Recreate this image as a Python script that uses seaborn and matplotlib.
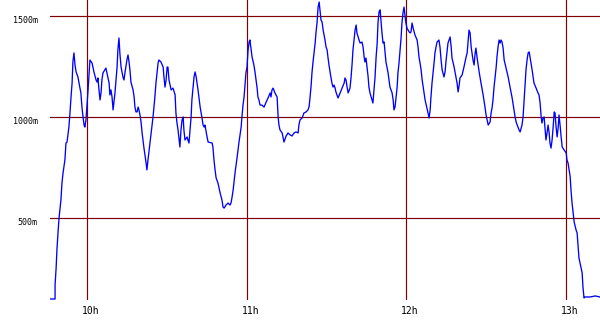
import matplotlib
matplotlib.use("Agg")
import matplotlib.pyplot as plt
from matplotlib.transforms import ScaledTranslation
import seaborn as sns
import pandas as pd

# time in minutes after 09:00, altitude in metres
time_min = [46.1, 48.0, 48.0, 48.4, 48.7, 49.1, 49.5, 50.2, 50.6, 51.0, 51.7, 52.1, 52.5, 53.2, 53.6, 54.0, 54.4, 54.7, 55.1, 55.5,
            55.9, 56.6, 57.0, 57.7, 58.1, 58.5, 58.9, 59.2, 59.6, 60.0, 60.4, 60.8, 61.1, 61.9, 62.6, 63.4, 63.8, 64.1, 64.5, 64.9,
            65.3, 65.6, 66.0, 67.1, 67.5, 68.3, 68.6, 69.0, 69.4, 69.8, 70.1, 70.5, 70.9, 71.3, 71.6, 72.0, 72.4, 72.8, 73.5, 73.9,
            74.3, 75.0, 75.4, 75.8, 76.2, 76.5, 77.3, 77.7, 78.0, 78.4, 78.8, 79.2, 79.5, 79.9, 80.3, 80.7, 81.4, 82.2, 82.5, 82.9,
            83.7, 84.4, 84.8, 85.5, 85.9, 86.3, 86.7, 87.0, 87.8, 88.6, 88.9, 89.3, 89.7, 90.1, 90.4, 90.8, 91.6, 92.3, 93.1, 93.4,
            93.8, 94.2, 94.6, 94.9, 95.3, 95.7, 96.1, 96.4, 96.8, 97.6, 97.9, 98.3, 98.7, 99.1, 99.4, 99.8, 100.2, 100.6, 101.0, 101.7,
            102.5, 103.2, 103.6, 104.0, 104.3, 105.1, 105.5, 107.0, 107.3, 107.7, 108.1, 108.5, 109.2, 110.0, 110.7, 111.1, 111.5, 112.2, 113.0, 113.7,
            114.1, 114.5, 114.9, 115.6, 116.4, 117.1, 117.9, 118.2, 118.6, 119.0, 119.4, 119.7, 120.1, 120.5, 120.9, 121.2, 121.6, 122.0, 122.7, 123.1,
            123.5, 123.9, 124.2, 124.6, 125.0, 125.7, 126.5, 127.3, 128.0, 128.8, 129.1, 129.5, 129.9, 130.6, 131.4, 131.8, 132.1, 132.5, 133.3, 133.6,
            134.0, 134.8, 135.5, 136.3, 137.0, 137.8, 138.5, 139.3, 139.6, 140.0, 140.8, 141.5, 142.3, 143.0, 143.4, 143.8, 144.2, 144.5, 144.9, 145.3,
            145.7, 146.0, 146.4, 146.8, 147.2, 147.5, 147.9, 148.3, 148.7, 149.4, 149.8, 150.2, 150.5, 150.9, 151.3, 151.7, 152.0, 152.4, 152.8, 153.2,
            153.5, 153.9, 154.3, 155.1, 155.8, 156.6, 156.9, 157.3, 157.7, 158.1, 158.8, 159.2, 159.6, 159.9, 160.3, 160.7, 161.1, 161.4, 162.2, 162.6,
            163.3, 163.7, 164.1, 164.4, 164.8, 165.2, 165.6, 165.9, 166.3, 167.1, 167.4, 167.8, 168.2, 168.6, 169.0, 169.3, 169.7, 170.1, 170.5, 170.8,
            171.2, 171.6, 172.3, 173.1, 173.8, 174.6, 175.0, 175.3, 175.7, 176.1, 176.5, 176.8, 177.2, 177.6, 178.0, 178.3, 178.7, 179.1, 179.5, 179.8,
            180.2, 181.0, 181.4, 181.7, 182.1, 182.5, 183.2, 184.0, 184.4, 184.7, 185.1, 185.5, 185.9, 186.6, 187.0, 187.7, 188.1, 188.5, 188.9, 189.2,
            189.6, 190.0, 190.4, 190.7, 191.1, 191.5, 192.2, 192.6, 193.0, 193.4, 194.1, 194.5, 194.9, 195.3, 195.6, 196.4, 196.8, 197.1, 197.9, 198.6,
            199.0, 199.4, 199.8, 200.1, 200.9, 201.6, 202.4, 202.8, 203.1, 203.5, 203.9, 204.3, 205.0, 205.4, 205.8, 206.1, 206.5, 207.3, 208.0, 208.8,
            209.5, 209.9, 210.3, 210.7, 211.4, 211.8, 212.2, 212.5, 212.9, 213.3, 213.7, 214.0, 214.4, 214.8, 215.2, 215.5, 215.9, 216.3, 216.7, 217.4,
            218.2, 218.9, 219.7, 220.4, 220.8, 221.2, 221.6, 222.3, 222.7, 223.1, 223.4, 223.8, 224.2, 224.6, 224.9, 225.3, 225.7, 226.1, 226.4, 227.2,
            227.9, 228.7, 229.4, 229.8, 230.2, 230.6, 230.9, 231.3, 231.7, 232.1, 232.4, 232.8, 233.2, 233.6, 233.9, 234.3, 234.7, 235.1, 235.5, 235.8,
            236.2, 236.6, 237.0, 237.3, 237.7, 238.1, 238.5, 239.2, 240.0, 240.3, 240.7, 241.1, 241.5, 241.8, 242.2, 242.6, 243.0, 243.7, 244.1, 244.5,
            244.8, 245.2, 246.0, 246.3, 246.7, 247.1, 249.0, 250.9, 252.7]

altitude_m = [99, 99, 168, 252, 342, 426, 500, 589, 673, 723, 787, 871, 876, 950, 1020, 1099, 1168, 1272, 1317, 1257,
              1223, 1198, 1168, 1119, 1049, 1000, 960, 950, 985, 1059, 1134, 1218, 1282, 1267, 1223, 1183, 1173, 1193, 1134, 1084,
              1124, 1183, 1218, 1242, 1218, 1168, 1109, 1134, 1099, 1035, 1069, 1119, 1183, 1247, 1331, 1391, 1307, 1247, 1198, 1183,
              1223, 1282, 1307, 1272, 1223, 1173, 1134, 1099, 1049, 1025, 1025, 1049, 1035, 1010, 975, 921, 846, 772, 738, 787,
              876, 950, 1000, 1099, 1168, 1218, 1267, 1282, 1272, 1247, 1198, 1148, 1183, 1247, 1247, 1183, 1134, 1143, 1109, 1020,
              970, 936, 886, 851, 936, 985, 1000, 936, 886, 901, 886, 871, 936, 1000, 1084, 1143, 1198, 1223, 1198, 1134,
              1049, 995, 960, 950, 960, 901, 876, 871, 851, 787, 738, 698, 673, 624, 589, 554, 549, 564, 574, 564,
              574, 604, 639, 723, 802, 876, 950, 1000, 1059, 1099, 1168, 1218, 1247, 1331, 1371, 1381, 1341, 1297, 1257, 1223,
              1183, 1143, 1099, 1084, 1059, 1059, 1049, 1074, 1094, 1119, 1099, 1134, 1143, 1119, 1099, 1000, 960, 936, 921, 901,
              876, 906, 921, 911, 906, 921, 926, 921, 960, 985, 995, 1020, 1025, 1035, 1049, 1099, 1158, 1218, 1272, 1317,
              1366, 1416, 1465, 1544, 1569, 1530, 1480, 1470, 1430, 1381, 1346, 1331, 1297, 1257, 1223, 1193, 1168, 1148, 1158, 1143,
              1124, 1109, 1094, 1119, 1143, 1168, 1193, 1183, 1148, 1119, 1143, 1198, 1267, 1331, 1381, 1430, 1455, 1416, 1381, 1366,
              1371, 1346, 1297, 1272, 1292, 1247, 1198, 1148, 1119, 1084, 1069, 1134, 1198, 1297, 1366, 1465, 1520, 1530, 1465, 1416,
              1366, 1371, 1272, 1218, 1148, 1119, 1084, 1035, 1049, 1099, 1148, 1218, 1267, 1331, 1396, 1465, 1515, 1544, 1495, 1465,
              1440, 1421, 1416, 1421, 1465, 1440, 1406, 1381, 1341, 1297, 1267, 1233, 1183, 1119, 1084, 1044, 1020, 995, 1035, 1099,
              1168, 1218, 1272, 1317, 1346, 1371, 1381, 1346, 1282, 1233, 1198, 1223, 1282, 1331, 1366, 1396, 1346, 1292, 1247, 1198,
              1168, 1124, 1158, 1193, 1208, 1247, 1297, 1317, 1366, 1430, 1416, 1346, 1282, 1257, 1317, 1341, 1297, 1223, 1168, 1109,
              1049, 1010, 985, 960, 975, 1020, 1049, 1084, 1148, 1198, 1247, 1297, 1346, 1381, 1366, 1381, 1371, 1341, 1282, 1242,
              1198, 1148, 1094, 1035, 1000, 975, 960, 936, 926, 945, 960, 1000, 1084, 1168, 1233, 1282, 1317, 1322, 1297, 1233,
              1168, 1143, 1119, 1109, 1069, 1000, 970, 995, 1000, 936, 886, 921, 960, 921, 871, 846, 886, 950, 1025, 1020,
              950, 901, 950, 1010, 960, 901, 851, 837, 822, 787, 772, 738, 703, 639, 574, 525, 480, 441, 426, 356,
              302, 277, 228, 158, 104, 109, 109, 114, 109]

hour_ticks = [60, 120, 180, 240]
hour_labels = ["10h", "11h", "12h", "13h"]
alt_ticks = [500, 1000, 1500]
alt_labels = ["500m", "1000m", "1500m"]

df = pd.DataFrame({"t": time_min, "alt": altitude_m})

fig = plt.figure(figsize=(6.0, 3.3), dpi=100)
ax = fig.add_axes([50 / 600, 30 / 330, 550 / 600, 300 / 330])
grid_col = "#800000"
for v in alt_ticks:
    ax.axhline(v, color=grid_col, lw=0.85, zorder=1)
for v in hour_ticks:
    ax.axvline(v, color=grid_col, lw=0.85, zorder=1)

sns.lineplot(data=df, x="t", y="alt", sort=False, estimator=None, color="#0000ff",
             lw=0.95, ax=ax, zorder=3)

ax.set_xlim(46.1, 252.7)
ax.set_ylim(94, 1579)
for s in ax.spines.values():
    s.set_visible(False)
ax.set_xlabel("")
ax.set_ylabel("")
ax.set_xticks(hour_ticks)
ax.set_xticklabels(hour_labels, family="DejaVu Sans Mono", fontsize=7)
ax.set_yticks(alt_ticks)
ax.set_yticklabels(alt_labels, family="DejaVu Sans Mono", fontsize=6)
ax.tick_params(axis="both", length=0)
ax.tick_params(axis="x", pad=4)
ax.tick_params(axis="y", pad=9)
for lab in ax.get_xticklabels():
    lab.set_transform(lab.get_transform() + ScaledTranslation(3.5 / 100, 0, fig.dpi_scale_trans))
for lab in ax.get_yticklabels():
    lab.set_transform(lab.get_transform() + ScaledTranslation(0, -4 / 100, fig.dpi_scale_trans))

fig.savefig("out.png", dpi=100, facecolor="white")
